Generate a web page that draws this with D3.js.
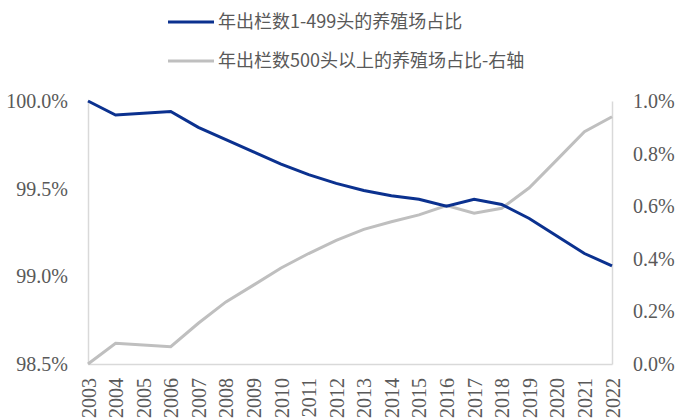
<!DOCTYPE html>
<html>
<head>
<meta charset="utf-8">
<script src="https://cdn.jsdelivr.net/npm/d3@7"></script>
<style>
  body { margin: 0; background: #fff; }
</style>
</head>
<body>
<div id="chart"></div>
<script>
// data
var years = ["2003","2004","2005","2006","2007","2008","2009","2010","2011","2012",
             "2013","2014","2015","2016","2017","2018","2019","2020","2021","2022"];
// left axis, %
var smallFarms = [100.0, 99.92, 99.93, 99.94, 99.85, 99.78, 99.71, 99.64, 99.58, 99.53,
                  99.49, 99.46, 99.44, 99.40, 99.44, 99.41, 99.33, 99.23, 99.13, 99.06];
// right axis, %
var bigFarms = [0.0, 0.079, 0.072, 0.066, 0.155, 0.236, 0.30, 0.365, 0.42, 0.47,
                0.512, 0.541, 0.567, 0.602, 0.573, 0.592, 0.670, 0.776, 0.883, 0.94];
var leftTicks = [98.5, 99.0, 99.5, 100.0];
var rightTicks = [0.0, 0.2, 0.4, 0.6, 0.8, 1.0];
var seriesNames = ["年出栏数1-499头的养殖场占比", "年出栏数500头以上的养殖场占比-右轴"];
var colors = ["#0b318f", "#bfbfbf"];

var W = 676, H = 420;
var plotLeft = 88, plotRight = 612, plotTop = 101, plotBottom = 364;
var tickFont = "'Liberation Serif', 'Times New Roman', serif";

var svg = d3.select("#chart").append("svg")
    .attr("width", W)
    .attr("height", H);

var x = d3.scalePoint().domain(years).range([plotLeft, plotRight]).padding(0);
var yL = d3.scaleLinear().domain([98.5, 100]).range([plotBottom, plotTop]);
var yR = d3.scaleLinear().domain([0, 1.0]).range([plotBottom, plotTop]);

// axes
var axL = svg.append("g")
    .attr("transform", "translate(" + plotLeft + ",0)")
    .call(d3.axisLeft(yL).tickValues(leftTicks).tickSize(0).tickPadding(20)
        .tickFormat(function(d) { return d.toFixed(1) + "%"; }));
var axR = svg.append("g")
    .attr("transform", "translate(" + plotRight + ",0)")
    .call(d3.axisRight(yR).tickValues(rightTicks).tickSize(0).tickPadding(21)
        .tickFormat(function(d) { return d.toFixed(1) + "%"; }));
var axB = svg.append("g")
    .attr("transform", "translate(0," + plotBottom + ")")
    .call(d3.axisBottom(x).tickSize(0));

axB.selectAll("text")
    .attr("transform", "rotate(-90)")
    .attr("text-anchor", "end")
    .attr("x", -14)
    .attr("y", 0)
    .attr("dy", "0.35em");

[axL, axR, axB].forEach(function(g) {
    g.select(".domain").attr("stroke", "#d9d9d9").attr("stroke-width", 1.5);
    g.selectAll("text")
        .attr("fill", "#595959")
        .style("font-family", tickFont)
        .style("font-size", "20px");
});

// lines
var lineL = d3.line()
    .x(function(d, i) { return x(years[i]); })
    .y(function(d) { return yL(d); });
var lineR = d3.line()
    .x(function(d, i) { return x(years[i]); })
    .y(function(d) { return yR(d); });

svg.append("path")
    .datum(bigFarms)
    .attr("d", lineR)
    .attr("fill", "none")
    .attr("stroke", colors[1])
    .attr("stroke-width", 3);

svg.append("path")
    .datum(smallFarms)
    .attr("d", lineL)
    .attr("fill", "none")
    .attr("stroke", colors[0])
    .attr("stroke-width", 3);

// legend
var legend = svg.append("g");
seriesNames.forEach(function(name, i) {
    var ly = 22 + i * 39;
    legend.append("line")
        .attr("x1", 168).attr("x2", 214)
        .attr("y1", ly).attr("y2", ly)
        .attr("stroke", colors[i])
        .attr("stroke-width", 3);
    legend.append("text")
        .attr("x", 218)
        .attr("y", ly)
        .attr("dy", "0.35em")
        .attr("fill", "#595959")
        .style("font-family", "'Noto Sans CJK SC', 'Noto Sans', sans-serif")
        .style("font-size", "18px")
        .text(name);
});
</script>
</body>
</html>
